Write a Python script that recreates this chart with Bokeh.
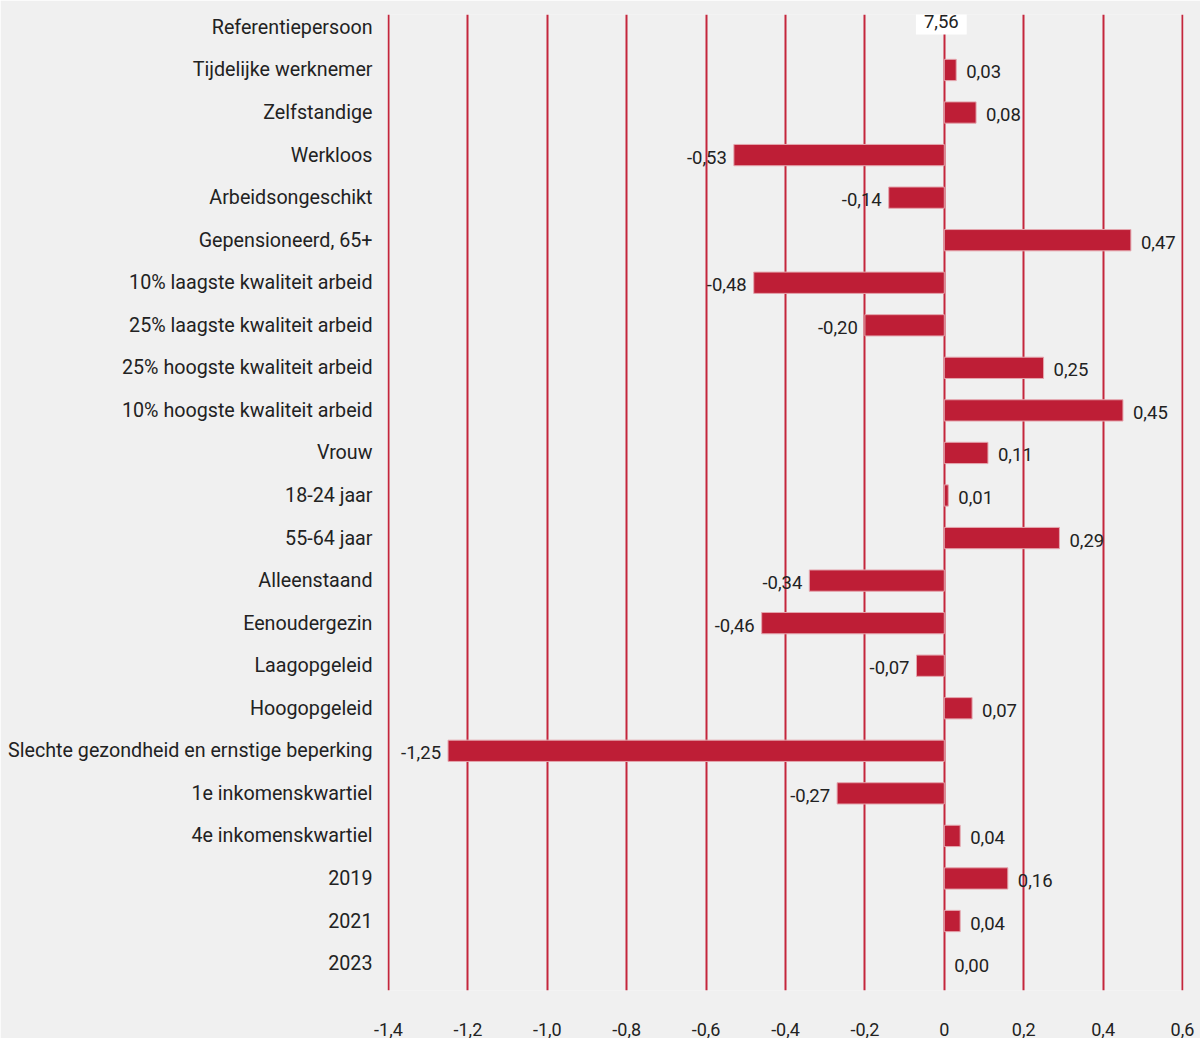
from bokeh.plotting import figure
from bokeh.models import Range1d, FixedTicker
from bokeh.core.properties import value
from bokeh.embed import file_html
from bokeh.resources import INLINE

categories = [
    "Referentiepersoon", "Tijdelijke werknemer", "Zelfstandige", "Werkloos",
    "Arbeidsongeschikt", "Gepensioneerd, 65+", "10% laagste kwaliteit arbeid",
    "25% laagste kwaliteit arbeid", "25% hoogste kwaliteit arbeid",
    "10% hoogste kwaliteit arbeid", "Vrouw", "18-24 jaar", "55-64 jaar",
    "Alleenstaand", "Eenoudergezin", "Laagopgeleid", "Hoogopgeleid",
    "Slechte gezondheid en ernstige beperking", "1e inkomenskwartiel",
    "4e inkomenskwartiel", "2019", "2021", "2023",
]
reference_value = 7.56
effects = [None, 0.03, 0.08, -0.53, -0.14, 0.47, -0.48, -0.20, 0.25, 0.45, 0.11,
           0.01, 0.29, -0.34, -0.46, -0.07, 0.07, -1.25, -0.27, 0.04, 0.16, 0.04, 0.00]
x_ticks = [-1.4, -1.2, -1.0, -0.8, -0.6, -0.4, -0.2, 0.0, 0.2, 0.4, 0.6]
x_tick_labels = ["-1,4", "-1,2", "-1,0", "-0,8", "-0,6", "-0,4", "-0,2", "0", "0,2", "0,4", "0,6"]

FONT = "Roboto"
BG = "#f0f0f0"
RED = "#be1e36"
TXT = "#222222"

fmt = lambda v: f"{v:.2f}".replace(".", ",")

pos_y, pos_v, pos_t = [], [], []
neg_y, neg_v, neg_t = [], [], []
bar_y, bar_v, bar_la = [], [], []
for i, v in enumerate(effects):
    if v is None:
        continue
    bar_y.append(i)
    bar_v.append(v)
    bar_la.append(0.0 if v == 0 else 1.0)
    if v >= 0:
        pos_y.append(i); pos_v.append(v); pos_t.append(fmt(v))
    else:
        neg_y.append(i); neg_v.append(v); neg_t.append(fmt(v))

p = figure(width=1200, height=1038, output_backend="svg", toolbar_location=None,
           x_range=Range1d(-1.4025, 0.6025), y_range=Range1d(22.633, -0.304),
           min_border_left=387, min_border_right=17, min_border_top=14, min_border_bottom=43)
p.background_fill_color = BG
p.border_fill_color = BG
p.outline_line_color = None

p.hbar(y=bar_y, left=0, right=bar_v, height=0.5, fill_color=RED,
       line_color="#e4a6ae", line_width=1, line_alpha=bar_la)

p.text(x=pos_v, y=pos_y, text=pos_t, x_offset=10, y_offset=2,
       text_align="left", text_baseline="middle", text_font=value(FONT),
       text_font_size="18.5px", text_color=TXT)
p.text(x=neg_v, y=neg_y, text=neg_t, x_offset=-7, y_offset=2,
       text_align="right", text_baseline="middle", text_font=value(FONT),
       text_font_size="18.5px", text_color=TXT)
p.text(x=[0], y=[0], text=[fmt(reference_value)], x_offset=-3, y_offset=-6,
       text_align="center", text_baseline="middle", text_font=value(FONT),
       text_font_size="18.5px", text_color=TXT, background_fill_color="white",
       padding=dict(left=8, right=8, top=7, bottom=6))

p.xgrid.ticker = FixedTicker(ticks=x_ticks)
p.xgrid.grid_line_color = "#c4263c"
p.xgrid.grid_line_width = 2
p.ygrid.grid_line_color = None

p.xaxis.ticker = FixedTicker(ticks=x_ticks)
p.xaxis.major_label_overrides = {t: l for t, l in zip(x_ticks, x_tick_labels)}
p.xaxis.axis_line_color = None
p.xaxis.major_tick_line_color = None
p.xaxis.minor_tick_line_color = None
p.xaxis.major_label_standoff = 26
p.xaxis.major_label_text_font = FONT
p.xaxis.major_label_text_font_size = "18px"
p.xaxis.major_label_text_color = TXT

p.yaxis.ticker = FixedTicker(ticks=list(range(len(categories))))
p.yaxis.major_label_overrides = {i: c for i, c in enumerate(categories)}
p.yaxis.axis_line_color = None
p.yaxis.major_tick_line_color = None
p.yaxis.minor_tick_line_color = None
p.yaxis.major_tick_out = 0
p.yaxis.major_tick_in = 0
p.yaxis.major_label_standoff = 15
p.yaxis.major_label_text_font = FONT
p.yaxis.major_label_text_font_size = "19.7px"
p.yaxis.major_label_text_color = TXT

open("out.html", "w").write(file_html(p, INLINE))
